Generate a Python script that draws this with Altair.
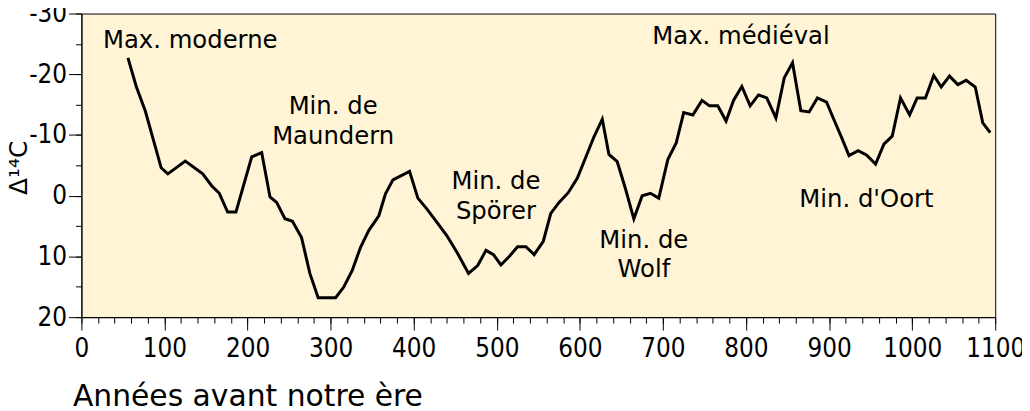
import altair as alt
import pandas as pd

# --- data ---
years = [56, 66, 77, 96, 104, 125, 146, 157, 166, 176, 186, 205, 217, 227, 235,
         245, 254, 265, 275, 285, 306, 316, 326, 336, 346, 358, 366, 375, 395, 405,
         416, 428, 440, 452, 466, 477, 487, 496, 505, 515, 525, 535, 545, 556, 565,
         575, 586, 597, 607, 617, 627, 635, 645, 655, 665, 675, 685, 695, 706, 716,
         725, 736, 747, 756, 766, 776, 785, 795, 805, 815, 825, 836, 846, 856, 866,
         876, 886, 897, 905, 915, 924, 935, 945, 956, 966, 976, 986, 997, 1006, 1016,
         1026, 1035, 1045, 1055, 1065, 1076, 1085, 1094]
delta14c = [-22.7, -18.0, -13.9, -4.6, -3.6, -5.7, -3.6, -1.6, -0.4, 2.7, 2.7, -6.4, -7.1, 0.2, 1.1,
            3.8, 4.2, 6.9, 12.8, 16.8, 16.8, 15.0, 12.3, 8.5, 5.7, 3.3, -0.3, -2.6, -4.0, 0.4,
            2.2, 4.4, 6.6, 9.3, 12.8, 11.5, 9.0, 9.7, 11.4, 10.0, 8.4, 8.4, 9.7, 7.5, 2.9,
            1.1, -0.5, -2.9, -6.3, -9.7, -12.6, -6.8, -5.6, -1.1, 3.8, 0.0, -0.4, 0.4, -6.0, -8.7,
            -13.7, -13.3, -15.7, -14.8, -14.8, -12.3, -15.7, -18.0, -14.8, -16.6, -16.1, -12.8, -19.4, -21.9, -14.0,
            -13.8, -16.1, -15.4, -12.8, -9.6, -6.6, -7.4, -6.7, -5.2, -8.5, -9.8, -16.1, -13.3, -16.1, -16.1,
            -19.8, -17.9, -19.7, -18.3, -19.0, -17.9, -12.0, -10.4]

label_text = ["Max. moderne", "Min. de", "Maundern", "Min. de", "Spörer",
              "Min. de", "Wolf", "Max. médiéval", "Min. d'Oort"]
label_year = [131, 303, 303, 499, 499, 677, 677, 794, 945]
label_value = [-25.4, -14.6, -9.6, -2.2, 2.7, 7.55, 12.3, -26.2, 0.75]

x_major = list(range(0, 1101, 100))
x_minor = list(range(0, 1101, 20))
y_major = [-30, -20, -10, 0, 10, 20]
y_minor = list(range(-30, 21, 5))

df = pd.DataFrame({"year": years, "d14c": delta14c})
labels = pd.DataFrame({"text": label_text, "year": label_year, "d14c": label_value})

FONT = "DejaVu Sans"
LABEL_FONT = "DejaVu Sans Condensed, DejaVu Sans"

x_scale = alt.Scale(domain=[0, 1100], nice=False, zero=False)
y_scale = alt.Scale(domain=[-30, 20], reverse=True, nice=False, zero=False)

line = alt.Chart(df).mark_line(color="black", strokeWidth=3, strokeJoin="miter").encode(
    x=alt.X("year:Q", scale=x_scale,
            axis=alt.Axis(orient="bottom", values=x_major, tickSize=13, tickColor="black",
                          domainColor="black", labelFont=LABEL_FONT, labelFontSize=26,
                          labelColor="black", labelPadding=6, labelFlush=False,
                          labelOverlap=False, grid=False, labelExpr="datum.value + ''",
                          title="Années avant notre ère", titleFont=FONT, titleFontSize=30,
                          titleFontWeight="normal", titleColor="black",
                          titleAnchor="start", titleAlign="left", titleX=-9, titleY=89,
                          titleBaseline="alphabetic")),
    y=alt.Y("d14c:Q", scale=y_scale,
            axis=alt.Axis(orient="left", values=y_major, tickSize=13, tickColor="black",
                          domainColor="black", labelFont=LABEL_FONT, labelFontSize=26,
                          labelColor="black", labelPadding=2, labelFlush=False,
                          labelOverlap=False, grid=False, labelExpr="datum.value + ''",
                          title="Δ¹⁴C", titleFont=FONT, titleFontSize=25,
                          titleFontWeight="normal", titleColor="black",
                          titleX=-55, titleY=155, titleAngle=270,
                          titleAlign="center", titleBaseline="alphabetic")),
)

minor = alt.Chart(df).mark_line(strokeOpacity=0).encode(
    x=alt.X("year:Q", scale=x_scale,
            axis=alt.Axis(orient="bottom", values=x_minor, tickSize=6, tickColor="black",
                          domain=False, labels=False, grid=False, title=None)),
    y=alt.Y("d14c:Q", scale=y_scale,
            axis=alt.Axis(orient="left", values=y_minor, tickSize=6, tickColor="black",
                          domain=False, labels=False, grid=False, title=None)),
)

text = alt.Chart(labels).mark_text(font=FONT, fontSize=24.5, color="black",
                                   align="center", baseline="middle").encode(
    x=alt.X("year:Q", scale=x_scale, axis=None),
    y=alt.Y("d14c:Q", scale=y_scale, axis=None),
    text="text:N",
)

chart = alt.layer(line, minor, text).resolve_axis(
    x="independent", y="independent"
).properties(
    width=921, height=306,
    autosize=alt.AutoSizeParams(type="none"),
    padding={"left": 74, "top": 4, "right": 27, "bottom": 93},
    background="white",
).configure_view(
    fill="#fff4d6", stroke="black", strokeWidth=1
)

chart.save("out.html", embed_options={"renderer": "svg", "actions": False})
